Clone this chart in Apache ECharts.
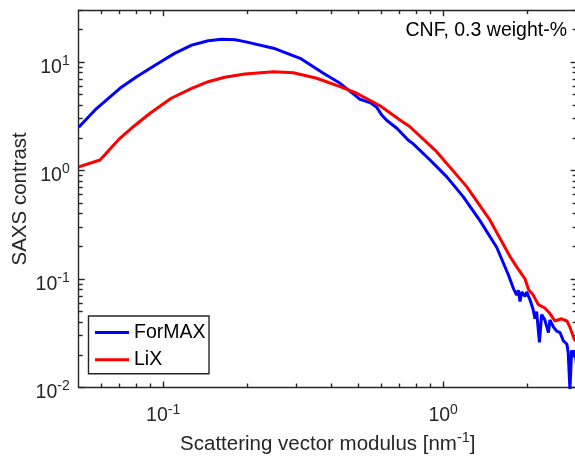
<!DOCTYPE html>
<html><head><meta charset="utf-8">
<script src="https://cdn.jsdelivr.net/npm/echarts@6/dist/echarts.min.js"></script>
<style>html,body{margin:0;padding:0;background:#fff}#c{width:575px;height:459px}</style>
</head><body><div id="c"></div>
<script>
// ---- data ----
const seriesNames = ['ForMAX', 'LiX'];
const formaxQ = [0.050, 0.0572, 0.0702, 0.0805, 0.0962, 0.110, 0.1266, 0.145, 0.162, 0.181, 0.196, 0.248, 0.309, 0.374, 0.429, 0.492, 0.505, 0.549, 0.580, 0.604, 0.629, 0.684, 0.752, 0.783, 0.899, 1.03, 1.18, 1.355, 1.556, 1.71, 1.783, 1.833, 1.858, 1.884, 1.910, 1.963, 1.99, 2.046, 2.10, 2.13, 2.16, 2.21, 2.25, 2.31, 2.38, 2.41, 2.48, 2.55, 2.62, 2.69, 2.77, 2.80, 2.84, 2.88, 2.92, 2.96, 3.0];
const formaxI = [2.50, 3.61, 5.72, 7.32, 9.73, 12.0, 14.3, 15.7, 16.2, 16.0, 15.4, 13.4, 10.8, 7.87, 6.36, 4.79, 4.53, 4.22, 3.82, 3.25, 2.90, 2.45, 1.90, 1.76, 1.25, 0.877, 0.574, 0.345, 0.195, 0.110, 0.082, 0.071, 0.079, 0.062, 0.076, 0.069, 0.076, 0.064, 0.052, 0.043, 0.050, 0.026, 0.047, 0.042, 0.032, 0.042, 0.036, 0.033, 0.032, 0.027, 0.025, 0.021, 0.0095, 0.022, 0.019, 0.022, 0.016];
const lixQ = [0.050, 0.0596, 0.0692, 0.0783, 0.0899, 0.107, 0.1266, 0.145, 0.166, 0.196, 0.248, 0.292, 0.354, 0.429, 0.492, 0.596, 0.702, 0.762, 0.949, 1.215, 1.47, 1.735, 1.83, 1.96, 2.02, 2.10, 2.19, 2.31, 2.41, 2.51, 2.65, 2.77, 2.84, 2.94, 3.0];
const lixI = [1.08, 1.25, 1.91, 2.53, 3.37, 4.63, 5.72, 6.58, 7.23, 7.75, 8.14, 7.96, 7.08, 5.92, 5.15, 3.95, 2.92, 2.53, 1.49, 0.71, 0.35, 0.161, 0.130, 0.101, 0.080, 0.071, 0.058, 0.054, 0.048, 0.041, 0.043, 0.041, 0.036, 0.028, 0.026];
const xRange = [0.05, 3];
const yRange = [0.01, 30];
const xMajorTicks = [0.1, 1];
const xMinorTicks = [0.06, 0.07, 0.08, 0.09, 0.2, 0.3, 0.4, 0.5, 0.6, 0.7, 0.8, 0.9, 2, 3];
const yMajorTicks = [0.01, 0.1, 1, 10];
const yMinorTicks = [0.02, 0.03, 0.04, 0.05, 0.06, 0.07, 0.08, 0.09, 0.2, 0.3, 0.4, 0.5, 0.6, 0.7, 0.8, 0.9, 2, 3, 4, 5, 6, 7, 8, 9, 20, 30];
const annotationText = 'CNF, 0.3 weight-%';
const xTitle = ['Scattering vector modulus [nm', '-1', ']'];
const yTitle = 'SAXS contrast';

// ---- chart ----
const FONT = 'Liberation Sans, Arial, sans-serif';
const INK = '#262626';
const gridRect = { left: 78.7, top: 10.2, right: -1.6, bottom: 71.5, containLabel: false, outerBoundsMode: 'none' };
const xRich = {
  p: { fontSize: 1, lineHeight: 29 },
  b: { fontSize: 19.5, lineHeight: 20, verticalAlign: 'bottom', fontFamily: FONT, color: INK },
  s: { fontSize: 14, lineHeight: 24, verticalAlign: 'top', padding: [6.5, 0, 0, 0], fontFamily: FONT, color: INK }
};
const yRich = {
  p: { fontSize: 1, lineHeight: 31 },
  b: { fontSize: 19.5, lineHeight: 20, verticalAlign: 'bottom', fontFamily: FONT, color: INK },
  s: { fontSize: 14, lineHeight: 24, verticalAlign: 'top', padding: [7.5, 0, 0, 0], fontFamily: FONT, color: INK }
};
const powFmt = v => '{p| }{b|10}{s|' + Math.round(Math.log10(v)) + '}';

function axis(kind, gridIndex, position, range, ticks, len, showLine, labels, extra) {
  const a = {
    type: 'log', logBase: 10, gridIndex, position, min: range[0], max: range[1],
    axisLine: { show: showLine, onZero: false, lineStyle: { color: INK, width: 1.4 } },
    axisTick: { show: true, inside: true, length: len, customValues: ticks, lineStyle: { color: INK, width: 1.4 } },
    axisLabel: labels ? { show: true, customValues: labels, formatter: powFmt, rich: kind === 'x' ? xRich : yRich, margin: kind === 'x' ? 9.5 : 9 } : { show: false },
    splitLine: { show: false }, minorTick: { show: false }, minorSplitLine: { show: false },
    silent: true
  };
  return Object.assign(a, extra || {});
}

const xAxes = [
  axis('x', 0, 'bottom', xRange, xMajorTicks, 6, true, xMajorTicks, {
    name: '{p| }{t|' + xTitle[0] + '}{s|' + xTitle[1] + '}{t|' + xTitle[2] + '}',
    nameLocation: 'middle', nameGap: 37.5, nameMoveOverlap: false,
    nameTextStyle: { rich: {
      p: { fontSize: 1, lineHeight: 30 },
      t: { fontSize: 20.5, lineHeight: 21, verticalAlign: 'bottom', fontFamily: FONT, color: INK },
      s: { fontSize: 14.5, lineHeight: 24, verticalAlign: 'top', padding: [5, 0, 0, 0], fontFamily: FONT, color: INK }
    } }
  }),
  axis('x', 0, 'top', xRange, xMajorTicks, 6, true, null),
  axis('x', 1, 'bottom', xRange, xMinorTicks, 4, false, null),
  axis('x', 1, 'top', xRange, xMinorTicks, 4, false, null)
];
const yAxes = [
  axis('y', 0, 'left', yRange, yMajorTicks, 6, true, yMajorTicks, {
    name: yTitle, nameLocation: 'middle', nameGap: 48, nameMoveOverlap: false,
    nameTextStyle: { fontSize: 20.5, fontFamily: FONT, color: INK }
  }),
  axis('y', 0, 'right', yRange, yMajorTicks, 6, true, null),
  axis('y', 1, 'left', yRange, yMinorTicks, 4, false, null),
  axis('y', 1, 'right', yRange, yMinorTicks, 4, false, null)
];

const zip = (q, v) => q.map((x, i) => [x, v[i]]);

const chart = echarts.init(document.getElementById('c'), null, { renderer: 'canvas' });
chart.setOption({
  animation: false,
  backgroundColor: '#ffffff',
  grid: [Object.assign({}, gridRect), Object.assign({}, gridRect)],
  xAxis: xAxes,
  yAxis: yAxes,
  legend: {
    data: seriesNames, orient: 'vertical', left: 88.5, top: 316,
    icon: 'rect', itemWidth: 34, itemHeight: 3, itemGap: 7.3,
    padding: [6.5, 3.5, 4, 6.5],
    backgroundColor: '#ffffff', borderColor: INK, borderWidth: 1.4,
    textStyle: { fontSize: 19.5, lineHeight: 20, fontFamily: FONT, color: '#000' }
  },
  graphic: [{
    type: 'text', right: 8, top: 21, z: 100,
    style: { text: annotationText, fontSize: 19.5, fontFamily: FONT, fill: '#000' }
  }],
  series: [
    { name: seriesNames[0], type: 'line', xAxisIndex: 0, yAxisIndex: 0, data: zip(formaxQ, formaxI),
      showSymbol: false, symbol: 'none', clip: true, color: '#0000ff', lineStyle: { width: 3, color: '#0000ff' } },
    { name: seriesNames[1], type: 'line', xAxisIndex: 0, yAxisIndex: 0, data: zip(lixQ, lixI),
      showSymbol: false, symbol: 'none', clip: true, color: '#ff0000', lineStyle: { width: 3, color: '#ff0000' } }
  ]
});
</script></body></html>
